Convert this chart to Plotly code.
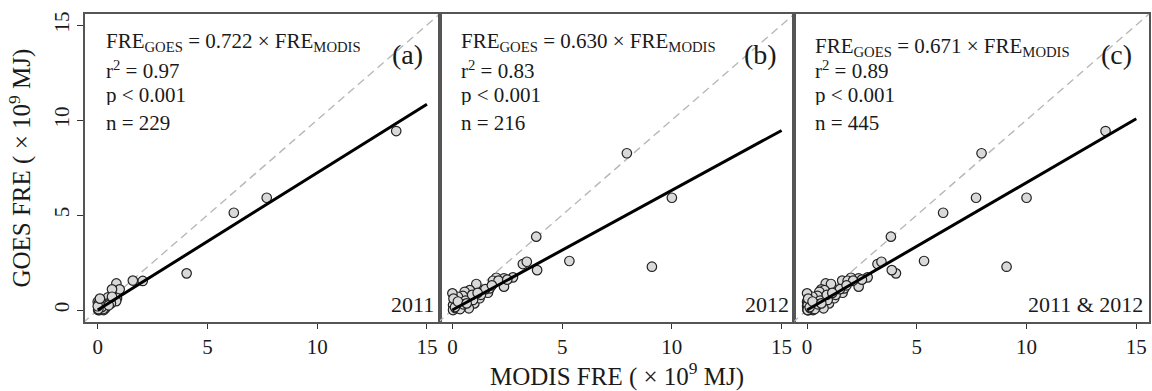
import plotly.graph_objects as go

# ---------------- data ----------------
modis_2011 = [13.6, 7.7, 6.2, 4.05, 2.05, 1.6, 0.85, 1.0, 0.65, 0.47, 0.88, 0.84, 0.12, 0.05,
              0.02, 0.27, 0.35, 0.0, 0.08, 0.27, 0.12, 0.2, 0.15, 0.3, 0.1, 0.05, 0.4, 0.55,
              0.6, 0.65, 0.25, 0.18, 0.03, 0.0, 0.1, 0.5]
goes_2011 = [9.42, 5.91, 5.12, 1.93, 1.53, 1.55, 1.40, 1.09, 1.09, 0.67, 0.62, 0.47, 0.44, 0.17,
             0.0, 0.26, 0.09, 0.44, 0.0, 0.0, 0.53, 0.1, 0.3, 0.2, 0.25, 0.35, 0.3, 0.4,
             0.35, 0.7, 0.05, 0.15, 0.05, 0.2, 0.6, 0.25]

modis_2012 = [7.95, 10.0, 3.82, 3.21, 3.39, 3.86, 5.33, 9.09, 2.76, 2.35, 2.35, 2.0, 1.85, 1.62,
              1.7, 1.09, 0.79, 0.56, 0.7, 1.0, 1.24, 0.94, 0.75, 0.48, 0.25, 0.1, 0.03, 0.03,
              0.33, 0.41, 0.0, 1.3, 1.5, 0.6, 0.2, 0.15, 0.05, 0.9, 1.15, 2.1, 0.35, 0.5,
              0.12, 0.25, 0.65, 1.8, 2.5]
goes_2012 = [8.25, 5.91, 3.86, 2.42, 2.54, 2.1, 2.58, 2.28, 1.72, 1.67, 1.23, 1.7, 1.54, 0.91,
             1.14, 1.37, 1.05, 0.96, 0.17, 0.35, 0.62, 0.53, 0.09, 0.74, 0.7, 0.53, 0.26, 0.0,
             0.35, 0.17, 0.88, 0.8, 1.1, 0.5, 0.4, 0.1, 0.6, 0.8, 0.9, 1.55, 0.05, 0.3,
             0.15, 0.45, 0.35, 1.3, 1.6]

panel_letters = ["(a)", "(b)", "(c)"]
panel_years = ["2011", "2012", "2011 & 2012"]
slopes = [0.722, 0.630, 0.671]
r2_values = ["0.97", "0.83", "0.89"]
p_values = ["0.001", "0.001", "0.001"]
n_values = [229, 216, 445]

tick_vals = [0, 5, 10, 15]
tick_text = ["0", "5", "10", "15"]
axis_range_x = [-0.58, 15.58]
axis_range_y = [-0.63, 15.58]

x_title = "MODIS FRE ( × 10<sup>9</sup> MJ)"
y_title = "GOES FRE ( × 10<sup>9</sup> MJ)"

# ---------------- figure ----------------
FONT = "Liberation Serif, Times New Roman, serif"
panel_x = [modis_2011, modis_2012, modis_2011 + modis_2012]
panel_y = [goes_2011, goes_2012, goes_2011 + goes_2012]

fig = go.Figure()
for i in range(3):
    xa = "x" if i == 0 else f"x{i+1}"
    ya = "y" if i == 0 else f"y{i+1}"
    # 1:1 line
    fig.add_trace(go.Scatter(x=[axis_range_x[0] - 1, axis_range_x[1] + 1],
                             y=[axis_range_x[0] - 1, axis_range_x[1] + 1],
                             mode="lines", xaxis=xa, yaxis=ya, showlegend=False,
                             line=dict(color="#b8b8b8", width=1.4, dash="8px,5px"),
                             hoverinfo="skip"))
    # points
    fig.add_trace(go.Scatter(x=panel_x[i], y=panel_y[i], mode="markers",
                             xaxis=xa, yaxis=ya, showlegend=False,
                             marker=dict(size=9.5, color="#d9d9d9",
                                         line=dict(color="#222222", width=1.2))))
    # regression line
    xs = [tick_vals[0], tick_vals[-1]]
    fig.add_trace(go.Scatter(x=xs, y=[slopes[i] * v for v in xs], mode="lines",
                             xaxis=xa, yaxis=ya, showlegend=False,
                             line=dict(color="black", width=3)))

axis_common = dict(showgrid=False, zeroline=False, showline=True, mirror=True,
                   linecolor="#555555", linewidth=1.5)
layout = dict(width=1152, height=391,
              margin=dict(l=85, r=1, t=14, b=69),
              plot_bgcolor="white", paper_bgcolor="white",
              font=dict(family=FONT, color="#1a1a1a"))
for i in range(3):
    xk = "xaxis" if i == 0 else f"xaxis{i+1}"
    yk = "yaxis" if i == 0 else f"yaxis{i+1}"
    ya = "y" if i == 0 else f"y{i+1}"
    xa = "x" if i == 0 else f"x{i+1}"
    layout[xk] = dict(axis_common, domain=[i / 3, (i + 1) / 3], range=axis_range_x,
                      anchor=ya, tickvals=tick_vals, ticktext=tick_text,
                      ticks="outside", ticklen=5, tickwidth=1.2, tickcolor="#333",
                      tickfont=dict(size=21, family=FONT, color="#1a1a1a"))
    ydict = dict(axis_common, domain=[0, 1], range=axis_range_y, anchor=xa)
    if i == 0:
        ydict.update(tickvals=tick_vals, ticktext=tick_text, ticks="outside",
                     ticklen=6, tickwidth=1.2, tickcolor="#333", tickangle=-90,
                     tickfont=dict(size=21, family=FONT, color="#1a1a1a"))
    else:
        ydict.update(showticklabels=False, ticks="")
    layout[yk] = ydict

fig.update_layout(**layout)

ann = []
line_y = [[0.9075, 0.8175, 0.7355, 0.6460],
          [0.9075, 0.8175, 0.7355, 0.6460],
          [0.892, 0.8175, 0.7355, 0.6460]]
for i in range(3):
    xr = "x domain" if i == 0 else f"x{i+1} domain"
    yr = "y domain" if i == 0 else f"y{i+1} domain"
    texts = [f"FRE<sub>GOES</sub> = {slopes[i]:.3f} × FRE<sub>MODIS</sub>",
             f"r<sup>2</sup> = {r2_values[i]}",
             f"p &lt; {p_values[i]}",
             f"n = {n_values[i]}"]
    for t, yy in zip(texts, line_y[i]):
        ann.append(dict(text=t, xref=xr, yref=yr, x=0.056, y=yy, xanchor="left",
                        yanchor="middle", showarrow=False, height=20, borderpad=0,
                        font=dict(size=21, family=FONT, color="#1a1a1a")))
    ann.append(dict(text=panel_letters[i], xref=xr, yref=yr, x=0.958, y=0.867,
                    xanchor="right", yanchor="middle", showarrow=False,
                    font=dict(size=28, family=FONT, color="#1a1a1a")))
    ann.append(dict(text=panel_years[i], xref=xr, yref=yr, x=0.99, y=0.058,
                    xanchor="right", yanchor="middle", showarrow=False,
                    font=dict(size=22, family=FONT, color="#1a1a1a")))

ann.append(dict(text=x_title, xref="paper", yref="paper", x=0.5, y=-0.172,
                xanchor="center", yanchor="middle", showarrow=False,
                font=dict(size=25, family=FONT, color="#1a1a1a")))
ann.append(dict(text=y_title, xref="paper", yref="paper", x=-0.0615, y=0.5,
                xanchor="center", yanchor="middle", textangle=-90, showarrow=False,
                font=dict(size=25, family=FONT, color="#1a1a1a")))
fig.update_layout(annotations=ann)

fig.write_html("out.html")
